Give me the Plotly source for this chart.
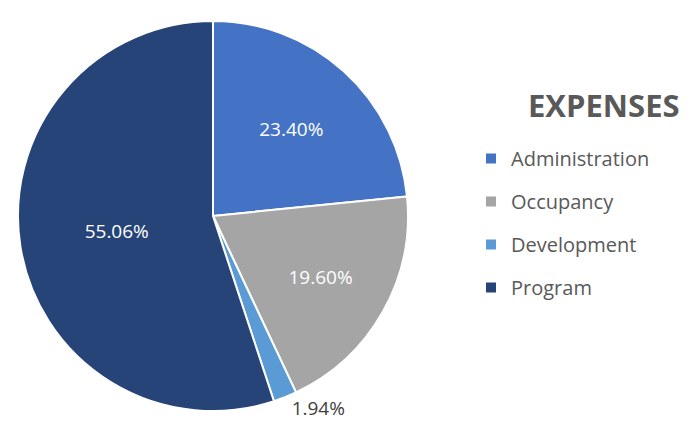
import plotly.graph_objects as go

categories = ["Administration", "Occupancy", "Development", "Program"]
values = [23.40, 19.60, 1.94, 55.06]
colors = ["#4472C4", "#A5A5A5", "#5B9BD5", "#264478"]

# page body has an 8px margin; figure sized to fill the remaining window
W, H = 686, 425
fig = go.Figure()
fig.add_trace(go.Pie(
    labels=categories, values=values, sort=False, direction="clockwise", rotation=0,
    marker=dict(colors=colors, line=dict(color="white", width=2)),
    texttemplate="%{percent:.2%}",
    textposition=["inside", "inside", "outside", "inside"],
    insidetextorientation="horizontal",
    insidetextfont=dict(color="white", size=19, family="Open Sans"),
    outsidetextfont=dict(color="#404040", size=19, family="Open Sans"),
    showlegend=False, hoverinfo="label+percent",
    domain=dict(x=[10 / W, 400 / W], y=[(H - 403) / H, (H - 13) / H]),
))
for c, col in zip(categories, colors):
    fig.add_trace(go.Scatter(x=[None], y=[None], mode="markers", name=c, legendgroup=c,
                             marker=dict(symbol="square", size=10, color=col)))

fig.add_annotation(text="<b>EXPENSES</b>", x=674 / W, y=(H - 97) / H, xref="paper", yref="paper",
                   xanchor="right", yanchor="middle", showarrow=False,
                   font=dict(family="Open Sans", size=31, color="#595959"))

fig.update_layout(
    width=W, height=H, margin=dict(l=0, r=0, t=0, b=0),
    paper_bgcolor="white", plot_bgcolor="white",
    xaxis=dict(visible=False), yaxis=dict(visible=False),
    legend=dict(x=463 / W, y=(H - 131) / H, xanchor="left", yanchor="top",
                font=dict(family="Open Sans", size=20, color="#595959"),
                tracegroupgap=14, traceorder="grouped", itemclick=False),
)
fig.write_html("out.html")
